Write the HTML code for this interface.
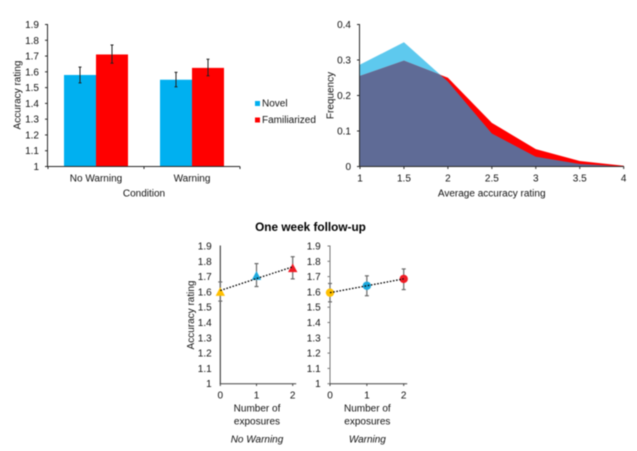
<!DOCTYPE html>
<html>
<head>
<meta charset="utf-8">
<style>
html,body{margin:0;padding:0;background:#fff;width:637px;height:451px;overflow:hidden}
svg{display:block;filter:blur(0.4px)}
text{font-family:"Liberation Sans",Arial,sans-serif;font-size:10px;fill:#111}
</style>
</head>
<body>
<svg id="fig" width="637" height="451" viewBox="0 0 637 451" xmlns="http://www.w3.org/2000/svg"></svg>
<script>
// Bar chart data
const barCategories = ['No Warning', 'Warning'];
const barSeriesNames = ['Novel', 'Familiarized'];
const barNovel = [1.58, 1.55];
const barFamiliarized = [1.71, 1.625];
const barNovelErrHigh = [1.63, 1.597];
const barNovelErrLow = [1.53, 1.505];
const barFamiliarizedErrHigh = [1.77, 1.68];
const barFamiliarizedErrLow = [1.655, 1.575];
const ratingTicks = [1, 1.1, 1.2, 1.3, 1.4, 1.5, 1.6, 1.7, 1.8, 1.9];

// Area chart data
const freqX = [1, 1.5, 2, 2.5, 3, 3.5, 4];
const freqNovel = [0.287, 0.35, 0.239, 0.093, 0.0275, 0.007, 0];
const freqFamiliarized = [0.255, 0.298, 0.25, 0.123, 0.049, 0.0155, 0.002];
const freqXTicks = [1, 1.5, 2, 2.5, 3, 3.5, 4];
const freqYTicks = [0, 0.1, 0.2, 0.3, 0.4];

// Follow-up data
const exposures = [0, 1, 2];
const noWarningValues = [1.6, 1.705, 1.755];
const noWarningErrHigh = [1.665, 1.785, 1.83];
const noWarningErrLow = [1.54, 1.635, 1.685];
const warningValues = [1.595, 1.64, 1.685];
const warningErrHigh = [1.655, 1.705, 1.75];
const warningErrLow = [1.535, 1.575, 1.615];
const exposureColors = ['#ffc000', '#1ba9de', '#ee1c25'];

const NS = 'http://www.w3.org/2000/svg';
const fig = document.getElementById('fig');
function mk(tag, attrs, parent) {
  const e = document.createElementNS(NS, tag);
  for (const k in attrs) e.setAttribute(k, attrs[k]);
  (parent || fig).appendChild(e);
  return e;
}
function label(str, x, y, anchor, parent, extra) {
  const t = mk('text', Object.assign({x: x, y: y + 3.5, 'text-anchor': anchor || 'middle'}, extra || {}), parent);
  t.textContent = str;
  return t;
}
function vlabel(str, x, y, parent) {
  const t = mk('text', {x: 0, y: 0, 'text-anchor': 'middle', transform: 'translate(' + (x + 3.5) + ',' + y + ') rotate(-90)'}, parent);
  t.textContent = str;
  return t;
}
function scale(d0, d1, r0, r1) {
  return function (v) { return r0 + (v - d0) * (r1 - r0) / (d1 - d0); };
}
const AX = '#2a2a2a';
function line(x1, y1, x2, y2, col, w, parent) {
  return mk('line', {x1: x1, y1: y1, x2: x2, y2: y2, stroke: col || AX, 'stroke-width': w || 1}, parent);
}
function errBar(x, yHi, yLo, col, cap, parent, w) {
  line(x, yHi, x, yLo, col, w || 1, parent);
  line(x - cap, yHi, x + cap, yHi, col, w || 1, parent);
  line(x - cap, yLo, x + cap, yLo, col, w || 1, parent);
}

/* ---------- Bar chart ---------- */
const g1 = mk('g', {});


const by = scale(1, 1.9, 166.5, 24.5);
const bandX0 = 48, bandW = 96, barW = 32;
barCategories.forEach(function (cat, i) {
  const x0 = bandX0 + i * bandW + 16;
  const r1 = mk('rect', {x: x0, y: by(barNovel[i]), width: barW, height: by(1) - by(barNovel[i]), fill: '#00b0f0'}, g1);
  
  
  const r2 = mk('rect', {x: x0 + barW, y: by(barFamiliarized[i]), width: barW, height: by(1) - by(barFamiliarized[i]), fill: '#ff0000'}, g1);
  
  
  errBar(x0 + barW / 2, by(barNovelErrHigh[i]), by(barNovelErrLow[i]), '#222', 1.5, g1);
  errBar(x0 + barW * 1.5, by(barFamiliarizedErrHigh[i]), by(barFamiliarizedErrLow[i]), '#222', 1.5, g1);
  const cl = label(cat, bandX0 + i * bandW + bandW / 2, 178, 'middle', g1);
  
  
  line(bandX0 + (i + 1) * bandW, 166.5, bandX0 + (i + 1) * bandW, 169, AX, 1, g1);
});
line(47.5, 24, 47.5, 167, AX, 1, g1);
line(47, 166.5, 240, 166.5, AX, 1, g1);
line(48, 166.5, 48, 169, AX, 1, g1);
ratingTicks.forEach(function (v) {
  line(45, by(v), 48, by(v), AX, 1, g1);
  const t = label(String(v), 39, by(v), 'end', g1);
  
  
});
const yt1 = vlabel('Accuracy rating', 17, 95, g1);


const xt1 = label('Condition', 144, 193, 'middle', g1);



const legendColors = ['#00b0f0', '#ff0000'];
barSeriesNames.forEach(function (n, i) {
  const ly = 103.5 + i * 16.5;
  const lg = mk('g', {}, g1);
  
  
  mk('rect', {x: 255, y: ly - 2.5, width: 5, height: 5, fill: legendColors[i]}, lg);
  label(n, 262, ly - 0.5, 'start', lg);
});

/* ---------- Area chart ---------- */
const g2 = mk('g', {});


const ax = scale(1, 4, 360, 623.7);
const ay = scale(0, 0.4, 166.5, 24.5);
function areaPts(vals) {
  const pts = freqX.map(function (x, i) { return ax(x) + ',' + ay(vals[i]); });
  pts.unshift(ax(freqX[0]) + ',' + ay(0));
  pts.push(ax(freqX[freqX.length - 1]) + ',' + ay(0));
  return pts.join(' ');
}
const a1 = mk('polygon', {points: areaPts(freqNovel), fill: '#5ec9ee'}, g2);


const a2 = mk('polygon', {points: areaPts(freqFamiliarized), fill: '#ff0000'}, g2);


const defs = mk('defs', {}, g2);
const cp = mk('clipPath', {id: 'clipFam'}, defs);
mk('polygon', {points: areaPts(freqFamiliarized)}, cp);
const a3 = mk('polygon', {points: areaPts(freqNovel), fill: '#5f6b96', 'clip-path': 'url(#clipFam)'}, g2);


line(359.5, 24, 359.5, 167, AX, 1, g2);
line(359, 166.5, 624, 166.5, AX, 1, g2);
freqYTicks.forEach(function (v) {
  line(357, ay(v), 360, ay(v), AX, 1, g2);
  const t = label(String(v), 351, ay(v), 'end', g2);
  
  
});
freqXTicks.forEach(function (v) {
  line(ax(v), 166.5, ax(v), 169, AX, 1, g2);
  const t = label(String(v), ax(v), 178, 'middle', g2);
  
  
});
const yt2 = vlabel('Frequency', 330, 95.5, g2);


const xt2 = label('Average accuracy rating', 491.7, 193, 'middle', g2);



/* ---------- Follow-up ---------- */
const ttl = label('One week follow-up', 310.5, 227.5, 'middle', fig, {'font-weight': 'bold', 'style': 'font-size:11.8px;fill:#000'});



const fy = scale(1, 1.9, 383.7, 246);
// Least-squares trend through a panel's values
function fit(xs, ys) {
  const n = xs.length;
  const mx = xs.reduce(function (a, b) { return a + b; }, 0) / n;
  const my = ys.reduce(function (a, b) { return a + b; }, 0) / n;
  let sxy = 0, sxx = 0;
  xs.forEach(function (x, i) { sxy += (x - mx) * (ys[i] - my); sxx += (x - mx) * (x - mx); });
  const m = sxy / sxx;
  return function (x) { return my + m * (x - mx); };
}
function panel(name, x0, x2, vals, hi, lo, shape, caption, showTitle, tickRight, axisCol, tickLen) {
  const g = mk('g', {});
  
  
  const fx = scale(0, 2, x0, x2);
  line(x0, 245.5, x0, 384, axisCol, 1, g);
  line(x0 - 0.5, 383.7, x2 + 3.5, 383.7, '#444', 1, g);
  ratingTicks.forEach(function (v) {
    if (tickLen > 0) line(x0 - tickLen, fy(v), x0, fy(v), '#777', 1, g);
    const t = label(String(v), tickRight, fy(v), 'end', g);
    
    
  });
  exposures.forEach(function (e) {
    line(fx(e), 383.7, fx(e), 386, '#444', 1, g);
    const t = label(String(e), fx(e), 395, 'middle', g);
    
    
  });
  exposures.forEach(function (e, i) {
    errBar(fx(e), fy(hi[i]), fy(lo[i]), '#6a6a6a', 2, g, 1.2);
  });
  exposures.forEach(function (e, i) {
    const cx = fx(e), cy = fy(vals[i]);
    let m;
    if (shape === 'triangle') {
      m = mk('polygon', {points: (cx - 4.7) + ',' + (cy + 4) + ' ' + (cx + 4.7) + ',' + (cy + 4) + ' ' + cx + ',' + (cy - 4.8), fill: exposureColors[i]}, g);
    } else {
      m = mk('circle', {cx: cx, cy: cy, r: 4.2, fill: exposureColors[i]}, g);
    }
    
    
  });
  const trend = fit(exposures, vals);
  const first = exposures[0], last = exposures[exposures.length - 1];
  const tl = mk('line', {x1: fx(first), y1: fy(trend(first)), x2: fx(last), y2: fy(trend(last)), stroke: '#000', 'stroke-width': 1.3, 'stroke-dasharray': '1.6 1.6'}, g);
  
  
  const cxm = fx(1) + 0.5;
  const a = label('Number of', cxm, 408, 'middle', g);
  
  
  const b = label('exposures', cxm, 421, 'middle', g);
  
  
  const c = label(caption, cxm, 439, 'middle', g, {'font-style': 'italic'});
  
  
  if (showTitle) {
    const y = vlabel('Accuracy rating', 190.7, 315, g);
    
    
  }
}
panel('no-warning-panel', 220.3, 292.7, noWarningValues, noWarningErrHigh, noWarningErrLow, 'triangle', 'No Warning', true, 211.7, '#222', 0);
panel('warning-panel', 330, 403.7, warningValues, warningErrHigh, warningErrLow, 'circle', 'Warning', false, 320.7, '#777', 2.5);
</script>
</body>
</html>
